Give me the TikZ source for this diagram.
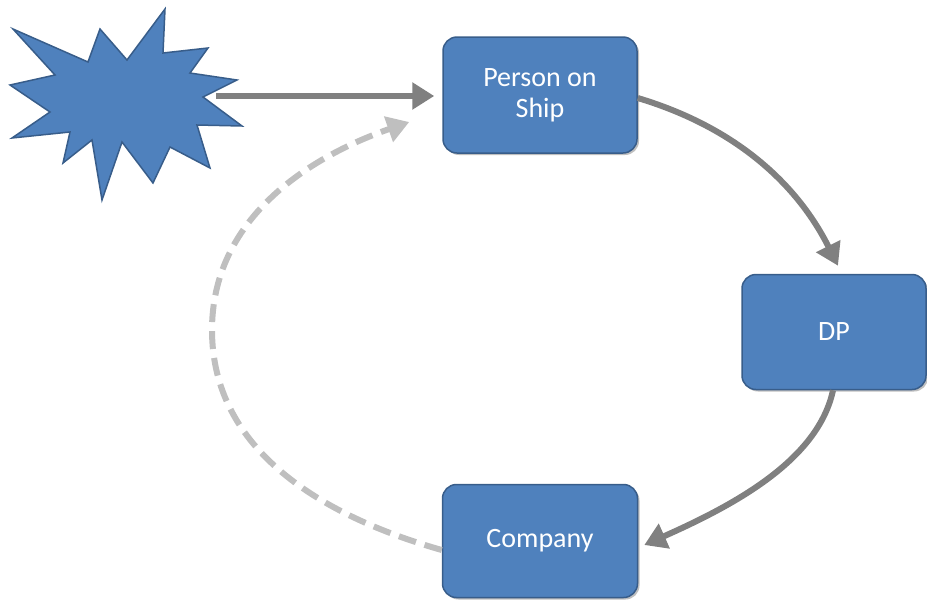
\documentclass[tikz,border=0pt]{standalone}
\usepackage{fontspec}
\setmainfont{Carlito}
\usetikzlibrary{arrows.meta,shadows}
\definecolor{boxblue}{HTML}{4F81BD}
\definecolor{boxedge}{HTML}{385D8A}
\definecolor{linkgray}{HTML}{808080}
\definecolor{backgray}{HTML}{BFBFBF}
\tikzset{
  box/.style={fill=boxblue, draw=boxedge, line width=1.5pt, rounded corners=14pt,
    text=white, align=center, inner sep=0pt,
    font=\fontsize{28}{31}\selectfont,
    drop shadow={shadow xshift=2pt, shadow yshift=-2pt, opacity=.25, fill=black}},
  burst/.style={fill=boxblue, draw=boxedge, line width=1.5pt, line join=miter},
  link/.style={draw=linkgray, line width=6pt,
    -{Triangle[length=22pt,width=26pt]}},
  back link/.style={draw=backgray, line width=6pt, dash pattern=on 18pt off 9pt,
    -{Triangle[length=22pt,width=26pt]}}
}
\begin{document}
\begin{tikzpicture}[x=1pt,y=-1pt]
  \useasboundingbox (0,0) rectangle (927,603);
  % the burst
  \path [burst] (13,29) -- (88,62) -- (100,29) -- (127,60) -- (165,9) -- (163,53)
    -- (208,48) -- (190,73) -- (237,80) -- (203,97) -- (242,126) -- (197,125)
    -- (210,168) -- (170,147) -- (153,183) -- (122,142) -- (102,200) -- (92,140)
    -- (63,163) -- (70,132) -- (12,138) -- (50,112) -- (10,85) -- (55,75) -- cycle;
  \coordinate (flash) at (216,96);
  % the boxes
  \node [box, minimum width=194pt, minimum height=116pt] (ship) at (540,95)
    {Person on\\Ship};
  \node [box, minimum width=184pt, minimum height=115pt] (dp) at (834,332) {DP};
  \node [box, minimum width=195pt, minimum height=113pt] (company) at (540,541)
    {Company};
  % the links
  \path [link] (flash) -- ([xshift=-8pt,yshift=-1pt]ship.west);
  \path [link] ([yshift=-3pt]ship.east) .. controls +(100,30) and +(-40,-80)
    .. ([xshift=4pt,yshift=8pt]dp.north);
  \path [link] ([xshift=-1pt]dp.south) .. controls +(-15,70) and +(90,-40)
    .. ([xshift=6pt,yshift=-4pt]company.east);
  \path [back link] ([yshift=-9pt]company.west) .. controls +(-120,-34) and +(0,120)
    .. (212,330) .. controls +(0,-110) and +(-103,36)
    .. ([xshift=-33pt,yshift=-27pt]ship.west);
\end{tikzpicture}
\end{document}
